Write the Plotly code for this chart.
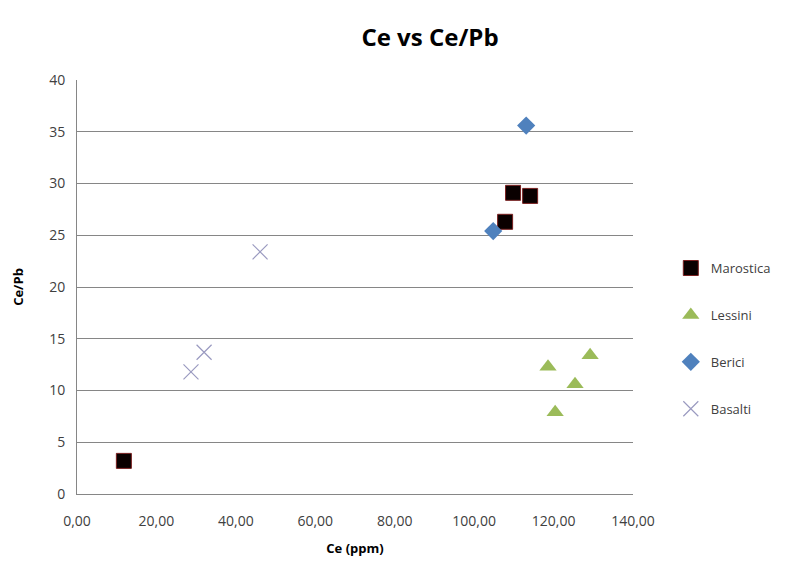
import plotly.graph_objects as go

# Data
marostica_x = [11.8, 109.8, 114.1, 107.8]
marostica_y = [3.2, 29.1, 28.8, 26.3]
lessini_x = [118.6, 129.2, 125.4, 120.4]
lessini_y = [12.3, 13.4, 10.6, 7.9]
berici_x = [113.1, 104.8]
berici_y = [35.6, 25.4]
basalti_x = [46.1, 28.7, 32.0]
basalti_y = [23.4, 11.8, 13.7]

fig = go.Figure()
fig.add_trace(go.Scatter(x=marostica_x, y=marostica_y, mode="markers", name="Marostica",
                         legendgroup="a",
                         marker=dict(symbol="square", size=15, color="#0a0000",
                                     line=dict(color="#7a2020", width=1))))
fig.add_trace(go.Scatter(x=lessini_x, y=lessini_y, mode="markers", name="Lessini",
                         legendgroup="b",
                         marker=dict(symbol="triangle-up", size=15, color="#9BBB59",
                                     line=dict(width=0))))
fig.add_trace(go.Scatter(x=berici_x, y=berici_y, mode="markers", name="Berici",
                         legendgroup="c",
                         marker=dict(symbol="diamond", size=14, color="#4F81BD",
                                     line=dict(width=0))))
fig.add_trace(go.Scatter(x=basalti_x, y=basalti_y, mode="markers", name="Basalti",
                         legendgroup="d",
                         marker=dict(symbol="x-thin-open", size=15, color="#9a9ac0",
                                     line=dict(color="#9a9ac0", width=1.2))))

fig.update_layout(
    width=801, height=565,
    margin=dict(l=77, r=168, t=80, b=71),
    paper_bgcolor="white", plot_bgcolor="white",
    separators=",.",
    font=dict(family="Open Sans, Liberation Sans, sans-serif", color="#404040", size=13),
    title=dict(text="<b>Ce vs Ce/Pb</b>", x=430/801, xanchor="center", y=1 - 38/565,
               yanchor="middle", font=dict(size=24, color="#000000")),
    legend=dict(x=1.068, y=0.582, xanchor="left", yanchor="top",
                tracegroupgap=27, font=dict(size=13, color="#404040"),
                itemwidth=30, bgcolor="rgba(0,0,0,0)"),
    xaxis=dict(range=[0, 140], tickvals=[0, 20, 40, 60, 80, 100, 120, 140],
               tickformat=".2f", showgrid=False, zeroline=False,
               showline=True, linecolor="#868686", linewidth=1,
               ticks="", ticklabelstandoff=14, tickfont=dict(size=14, color="#404040"),
               title=dict(text="<b>Ce (ppm)</b>", font=dict(size=13, color="#000000"), standoff=15)),
    yaxis=dict(range=[0, 40], dtick=5, showgrid=True, gridcolor="#868686", gridwidth=1,
               zeroline=False, showline=True, linecolor="#868686", linewidth=1,
               ticks="", ticklabelstandoff=8, tickfont=dict(size=14, color="#404040"),
               title=dict(text="<b>Ce/Pb</b>", font=dict(size=13, color="#000000"), standoff=22)),
)

fig.write_html("out.html")
